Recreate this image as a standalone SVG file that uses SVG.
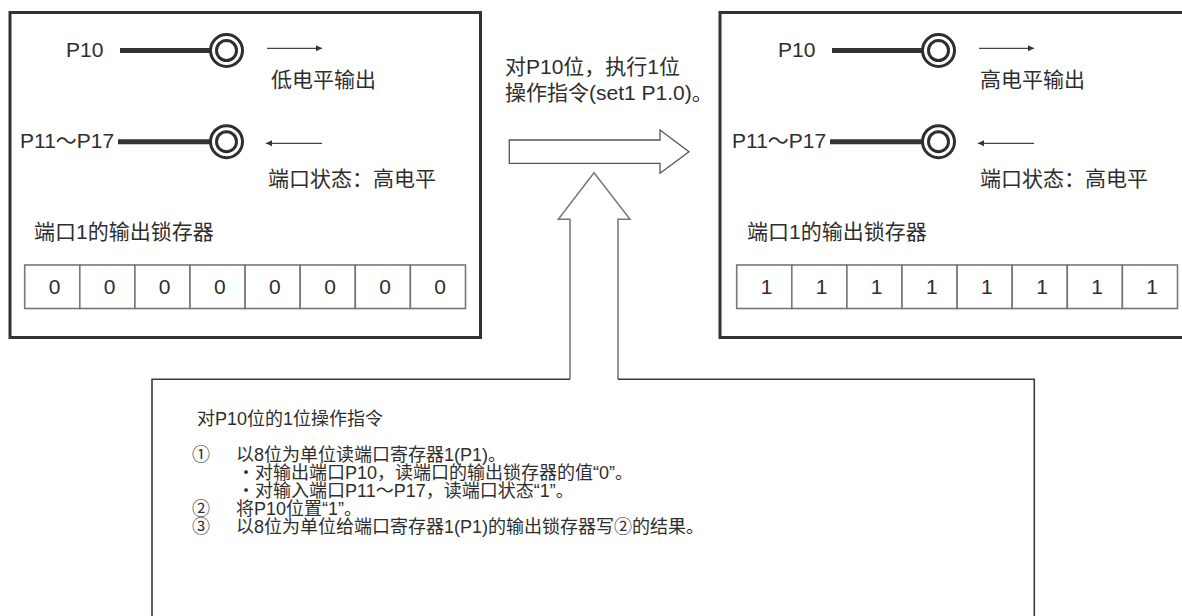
<svg xmlns="http://www.w3.org/2000/svg" width="1182" height="616" viewBox="0 0 1182 616">
<defs>
<style>
text{font-family:"Liberation Sans","Noto Sans CJK SC",sans-serif;fill:#2e2e2e;}
.t{font-size:21px;}
.s{font-size:18px;}
.d{font-size:21px;text-anchor:middle;}
.frame{fill:#fff;stroke:#333;stroke-width:3;}
.pin{stroke:#333;stroke-width:5;fill:none;}
.ring{fill:#fff;stroke:#2e2e2e;stroke-width:3;}
.thin{stroke:#444;stroke-width:1.2;fill:none;}
.cell{fill:#fff;stroke:#777;stroke-width:1.6;}
.hollow{fill:#fff;stroke:#555;stroke-width:1.3;}
</style>
<marker id="ah" viewBox="0 0 10 10" refX="10" refY="5" markerWidth="10" markerHeight="6" markerUnits="userSpaceOnUse" orient="auto">
<path d="M0,0 L10,5 L0,10 z" fill="#333"/>
</marker>
</defs>
<rect width="1182" height="616" fill="#fff"/>

<g id="left-box">
<rect class="frame" x="10" y="12.5" width="470.5" height="325"/>
<text class="t" x="66" y="57">P10</text>
<line class="pin" x1="120" y1="50.5" x2="212" y2="50.5"/>
<circle class="ring" cx="226.5" cy="50.5" r="16"/>
<circle class="ring" cx="226.5" cy="50.5" r="10"/>
<line class="thin" x1="267" y1="48.3" x2="322" y2="48.3" marker-end="url(#ah)"/>
<text class="t" x="271" y="87">低电平输出</text>
<text class="t" x="20" y="148">P11～P17</text>
<line class="pin" x1="118" y1="141.7" x2="212" y2="141.7"/>
<circle class="ring" cx="226.5" cy="141.7" r="16"/>
<circle class="ring" cx="226.5" cy="141.7" r="10"/>
<line class="thin" x1="322" y1="143.3" x2="266" y2="143.3" marker-end="url(#ah)"/>
<text class="t" x="268" y="186">端口状态：高电平</text>
<text class="t" x="34" y="239">端口1的输出锁存器</text>
<g>
<rect class="cell" x="24.7" y="265" width="55.1" height="43.5"/>
<rect class="cell" x="79.8" y="265" width="55.1" height="43.5"/>
<rect class="cell" x="134.9" y="265" width="55.1" height="43.5"/>
<rect class="cell" x="190" y="265" width="55.1" height="43.5"/>
<rect class="cell" x="245.1" y="265" width="55.1" height="43.5"/>
<rect class="cell" x="300.2" y="265" width="55.1" height="43.5"/>
<rect class="cell" x="355.3" y="265" width="55.1" height="43.5"/>
<rect class="cell" x="410.4" y="265" width="55.1" height="43.5"/>
<text class="d" x="54.5" y="294">0</text>
<text class="d" x="109.6" y="294">0</text>
<text class="d" x="164.7" y="294">0</text>
<text class="d" x="219.8" y="294">0</text>
<text class="d" x="274.9" y="294">0</text>
<text class="d" x="330" y="294">0</text>
<text class="d" x="385.1" y="294">0</text>
<text class="d" x="440.2" y="294">0</text>
</g>
</g>

<g id="right-box">
<rect class="frame" x="720" y="12.5" width="480" height="325"/>
<text class="t" x="778" y="57">P10</text>
<line class="pin" x1="832" y1="50.5" x2="924" y2="50.5"/>
<circle class="ring" cx="938.5" cy="50.5" r="16"/>
<circle class="ring" cx="938.5" cy="50.5" r="10"/>
<line class="thin" x1="979" y1="48.3" x2="1034" y2="48.3" marker-end="url(#ah)"/>
<text class="t" x="980" y="87">高电平输出</text>
<text class="t" x="732" y="148">P11～P17</text>
<line class="pin" x1="830" y1="141.7" x2="924" y2="141.7"/>
<circle class="ring" cx="938.5" cy="141.7" r="16"/>
<circle class="ring" cx="938.5" cy="141.7" r="10"/>
<line class="thin" x1="1034" y1="143.3" x2="978" y2="143.3" marker-end="url(#ah)"/>
<text class="t" x="980" y="186">端口状态：高电平</text>
<text class="t" x="747" y="239">端口1的输出锁存器</text>
<g>
<rect class="cell" x="736.7" y="265" width="55.1" height="43.5"/>
<rect class="cell" x="791.8" y="265" width="55.1" height="43.5"/>
<rect class="cell" x="846.9" y="265" width="55.1" height="43.5"/>
<rect class="cell" x="902" y="265" width="55.1" height="43.5"/>
<rect class="cell" x="957.1" y="265" width="55.1" height="43.5"/>
<rect class="cell" x="1012.2" y="265" width="55.1" height="43.5"/>
<rect class="cell" x="1067.3" y="265" width="55.1" height="43.5"/>
<rect class="cell" x="1122.4" y="265" width="55.1" height="43.5"/>
<text class="d" x="766.5" y="294">1</text>
<text class="d" x="821.6" y="294">1</text>
<text class="d" x="876.7" y="294">1</text>
<text class="d" x="931.8" y="294">1</text>
<text class="d" x="986.9" y="294">1</text>
<text class="d" x="1042" y="294">1</text>
<text class="d" x="1097.1" y="294">1</text>
<text class="d" x="1152.2" y="294">1</text>
</g>
</g>

<g id="operation-label">
<text class="t" x="505" y="74">对P10位，执行1位</text>
<text class="t" x="505" y="100">操作指令(set1 P1.0)。</text>
</g>

<g id="connectors">
<path class="hollow" d="M509.3,140 L660,140 L660,130 L689,151.7 L660,173.3 L660,163.3 L509.3,163.3 Z"/>
<path class="hollow" d="M570,379.3 L570,219.3 L558.3,219.3 L594,172.7 L630,219.3 L618,219.3 L618,379.3" style="stroke:#777;stroke-width:1.5"/>
</g>

<g id="bottom-box">
<path d="M570,379.3 L152,379.3 L152,630 L1034.3,630 L1034.3,379.3 L618,379.3" fill="none" stroke="#3a3a3a" stroke-width="1.6"/>
<text class="s" x="197" y="425">对P10位的1位操作指令</text>
<text class="s" x="192" y="461">①</text>
<text class="s" x="236" y="461">以8位为单位读端口寄存器1(P1)。</text>
<text class="s" x="237" y="479">・对输出端口P10，读端口的输出锁存器的值“0”。</text>
<text class="s" x="237" y="497">・对输入端口P11～P17，读端口状态“1”。</text>
<text class="s" x="192" y="515">②</text>
<text class="s" x="236" y="515">将P10位置“1”。</text>
<text class="s" x="192" y="533">③</text>
<text class="s" x="236" y="533">以8位为单位给端口寄存器1(P1)的输出锁存器写②的结果。</text>
</g>
</svg>
